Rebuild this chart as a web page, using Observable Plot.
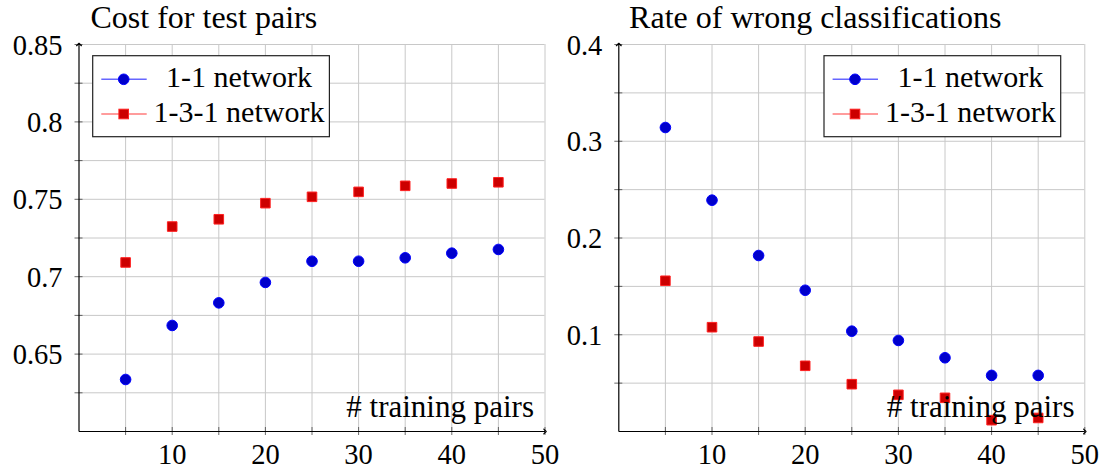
<!DOCTYPE html>
<html>
<head>
<meta charset="utf-8">
<script src="https://cdn.jsdelivr.net/npm/d3@7"></script>
<script src="https://cdn.jsdelivr.net/npm/@observablehq/plot@0.6"></script>
<style>
  html, body { margin: 0; padding: 0; background: white; }
  #wrap { position: relative; width: 1102px; height: 470px; overflow: hidden; font-family: 'Liberation Serif', serif; }
  #wrap svg { position: absolute; left: 0; top: 0; }
</style>
</head>
<body>
<div id="wrap"></div>
<script>
// ---- data ----
const trainingPairs = [5, 10, 15, 20, 25, 30, 35, 40, 45];
const cost11  = [0.6336, 0.6685, 0.6831, 0.6963, 0.7100, 0.7100, 0.7122, 0.7152, 0.7176];
const cost131 = [0.7092, 0.7324, 0.7371, 0.7475, 0.7516, 0.7548, 0.7587, 0.7602, 0.7610];
const wrong11  = [0.3142, 0.2391, 0.1819, 0.1460, 0.1037, 0.0941, 0.0762, 0.0580, 0.0580];
const wrong131 = [0.1558, 0.1078, 0.0930, 0.0679, 0.0489, 0.0379, 0.0348, 0.0117, 0.0140];

const seriesNames = ["1-1 network", "1-3-1 network"];
const titles = ["Cost for test pairs", "Rate of wrong classifications"];
const xLabel = "# training pairs";

const xDomain = [0, 50];
const xGrid = [5, 10, 15, 20, 25, 30, 35, 40, 45, 50];
const xTickLabels = [10, 20, 30, 40, 50];

const costDomain = [0.6, 0.85];
const costGrid = [0.625, 0.65, 0.675, 0.7, 0.725, 0.75, 0.775, 0.8, 0.825, 0.85];
const costTickLabels = [0.65, 0.7, 0.75, 0.8, 0.85];

const wrongDomain = [0, 0.4];
const wrongGrid = [0.05, 0.1, 0.15, 0.2, 0.25, 0.3, 0.35, 0.4];
const wrongTickLabels = [0.1, 0.2, 0.3, 0.4];

// ---- styles ----
const FONT = "Liberation Serif, serif";
const BLUE_FILL = "#0000cc", BLUE_STROKE = "#0000ff";
const RED_FILL = "#cc0000", RED_STROKE = "#ff2020";
const GRID = "#c8c8c8";

function panel({yDomain, yGrid, yTicks, s1, s2, title, marginLeft, marginRight, titleDx, labelDx}) {
  const rows1 = trainingPairs.map((x, i) => ({x, y: s1[i]}));
  const rows2 = trainingPairs.map((x, i) => ({x, y: s2[i]}));
  const axes = [
    {x1: xDomain[0], y1: yDomain[0], x2: xDomain[0], y2: yDomain[1]},
    {x1: xDomain[0], y1: yDomain[0], x2: xDomain[1], y2: yDomain[0]}
  ];
  const svg = Plot.plot({
    width: 1102,
    height: 470,
    marginLeft, marginRight,
    marginTop: 44,
    marginBottom: 39,
    style: {background: "transparent", overflow: "visible", color: "black", fontFamily: FONT},
    x: {domain: xDomain, label: null},
    y: {domain: yDomain, label: null},
    marks: [
      Plot.gridX(xGrid, {stroke: GRID, strokeOpacity: 1, strokeWidth: 1}),
      Plot.gridY(yGrid, {stroke: GRID, strokeOpacity: 1, strokeWidth: 1}),
      Plot.ruleX(xGrid, {x: d => d, y1: yDomain[0], y2: yDomain[0], insetTop: -4, insetBottom: -4, stroke: "#444", strokeWidth: 0.8}),
      Plot.ruleY(yGrid, {y: d => d, x1: xDomain[0], x2: xDomain[0], insetLeft: -4, insetRight: -4, stroke: "#444", strokeWidth: 0.8}),
      Plot.link(axes, {x1: "x1", y1: "y1", x2: "x2", y2: "y2", stroke: "black", strokeWidth: 1.2, markerEnd: "arrow"}),
      Plot.axisX({ticks: xTickLabels, tickSize: 0, tickPadding: 12, fontSize: 28.5, tickFormat: d => String(d), label: null, fill: "black"}),
      Plot.axisY({ticks: yTicks, tickSize: 0, tickPadding: 16.5, fontSize: 28.5, tickFormat: d => String(d), label: null, fill: "black", dy: 1}),
      Plot.dot(rows1, {x: "x", y: "y", r: 5.3, symbol: "circle", fill: BLUE_FILL, stroke: BLUE_STROKE, strokeWidth: 1}),
      Plot.dot(rows2, {x: "x", y: "y", r: 5.4, symbol: "square", fill: RED_FILL, stroke: RED_STROKE, strokeWidth: 1}),
      Plot.text([xLabel], {text: d => d, frameAnchor: "bottom-right", textAnchor: "end", lineAnchor: "bottom", dx: labelDx, dy: -15, fontSize: 31, fill: "black"}),
      Plot.text([title], {text: d => d, frameAnchor: "top-left", textAnchor: "start", lineAnchor: "bottom", dx: titleDx, dy: -16.7, fontSize: 32, fill: "black"})
    ]
  });
  svg.setAttribute("font-family", FONT);
  return svg;
}

const wrap = document.getElementById("wrap");
wrap.appendChild(panel({
  yDomain: costDomain, yGrid: costGrid, yTicks: costTickLabels, s1: cost11, s2: cost131,
  title: titles[0], marginLeft: 78.5, marginRight: 1102 - 544.5, titleDx: 11.5, labelDx: -11
}));
wrap.appendChild(panel({
  yDomain: wrongDomain, yGrid: wrongGrid, yTicks: wrongTickLabels, s1: wrong11, s2: wrong131,
  title: titles[1], marginLeft: 618.3, marginRight: 1102 - 1084.3, titleDx: 10.3, labelDx: -10.3
}));

// ---- legends (overlay) ----
const overlay = d3.create("svg").attr("width", 1102).attr("height", 470)
  .attr("font-family", FONT);
const legendLefts = [92.7, 824];
const legendItems = [
  {name: seriesNames[0], symbol: "circle", fill: BLUE_FILL, stroke: BLUE_STROKE, line: "#6666ff", rowY: 23.6, base: 31},
  {name: seriesNames[1], symbol: "square", fill: RED_FILL, stroke: RED_STROKE, line: "#ff7b7b", rowY: 58.3, base: 66}
];
for (const lx of legendLefts) {
  const g = overlay.append("g").attr("transform", `translate(${lx},55.7)`);
  g.append("rect").attr("width", 236.7).attr("height", 81)
    .attr("fill", "white").attr("stroke", "#222").attr("stroke-width", 1.2);
  for (const it of legendItems) {
    g.append("line").attr("x1", 8.6).attr("x2", 54).attr("y1", it.rowY).attr("y2", it.rowY)
      .attr("stroke", it.line).attr("stroke-width", 1.5);
    if (it.symbol === "circle") {
      g.append("circle").attr("cx", 31).attr("cy", it.rowY).attr("r", 5.3)
        .attr("fill", it.fill).attr("stroke", it.stroke);
    } else {
      g.append("rect").attr("x", 31 - 4.8).attr("y", it.rowY - 4.8).attr("width", 9.6).attr("height", 9.6)
        .attr("fill", it.fill).attr("stroke", it.stroke);
    }
    g.append("text").attr("x", 146.3).attr("y", it.base).attr("text-anchor", "middle")
      .attr("font-size", 30).attr("fill", "black").text(it.name);
  }
}
wrap.appendChild(overlay.node());
</script>
</body>
</html>
